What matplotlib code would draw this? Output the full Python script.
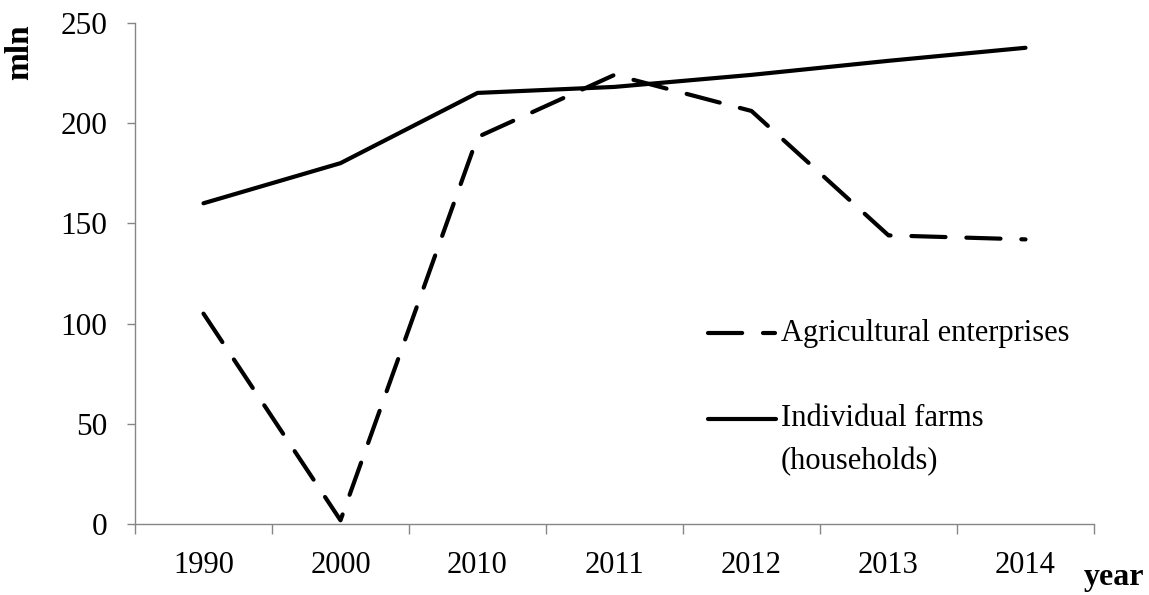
import matplotlib
matplotlib.use("Agg")
import matplotlib.pyplot as plt
from matplotlib.lines import Line2D

years = ["1990", "2000", "2010", "2011", "2012", "2013", "2014"]
agri_enterprises = [105, 2, 193, 224, 206, 144, 142]
individual_farms = [160, 180, 215, 218, 224, 231, 237.5]
y_ticks = [0, 50, 100, 150, 200, 250]

plt.rcParams["font.family"] = ["Liberation Serif", "DejaVu Serif"]

fig = plt.figure(figsize=(11.49, 5.95), dpi=100)
ax = fig.add_axes([135 / 1149, 1 - 524.3 / 595, (1094 - 135) / 1149, (524.3 - 22.7) / 595])

x = list(range(len(years)))
ax.plot(x, agri_enterprises, color="black", lw=3.0, solid_capstyle="round",
        dash_capstyle="round", linestyle=(0, (8.2, 5.0)), solid_joinstyle="miter")
ax.plot(x, individual_farms, color="black", lw=3.0, solid_capstyle="round")

ax.set_xlim(-0.5, len(years) - 0.5)
ax.set_ylim(0, 250)
ax.set_yticks(y_ticks)
ax.set_yticklabels([str(v) for v in y_ticks], fontsize=22.5)
ax.set_xticks([i - 0.5 for i in range(len(years) + 1)], minor=False)
ax.set_xticklabels([])
ax.set_xticks(x, minor=True)
ax.set_xticklabels(years, minor=True, fontsize=22)
ax.tick_params(axis="x", which="major", length=7.2, width=1, color="#868686", direction="out")
ax.tick_params(axis="x", which="minor", length=0, pad=19)
ax.tick_params(axis="y", length=5.8, width=1, color="#868686", direction="out", pad=14)

for s in ["top", "right"]:
    ax.spines[s].set_visible(False)
for s in ["left", "bottom"]:
    ax.spines[s].set_color("#868686")
    ax.spines[s].set_linewidth(1)

fig.text(20 / 1149, 1 - 52 / 595, "mln", rotation=90, fontsize=24, fontweight="bold",
         ha="center", va="center")
fig.text(1114 / 1149, 1 - 578 / 595, "year", fontsize=23, fontweight="bold",
         ha="center", va="center")

# legend (manual)
W, H = 1149, 595
l1 = Line2D([708 / W, 775 / W], [1 - 333 / H, 1 - 333 / H], transform=fig.transFigure,
            color="black", lw=3.0, linestyle=(0, (8.2, 5.0)), dash_capstyle="round")
l2 = Line2D([708 / W, 776 / W], [1 - 419 / H, 1 - 419 / H], transform=fig.transFigure,
            color="black", lw=3.0, solid_capstyle="round")
fig.add_artist(l1)
fig.add_artist(l2)
fig.text(781 / W, 1 - 333 / H, "Agricultural enterprises", fontsize=22, ha="left", va="center")
fig.text(781 / W, 1 - 419 / H, "Individual farms", fontsize=22, ha="left", va="center")
fig.text(781 / W, 1 - 462 / H, "(households)", fontsize=22, ha="left", va="center")

fig.savefig("out.png", dpi=100)
